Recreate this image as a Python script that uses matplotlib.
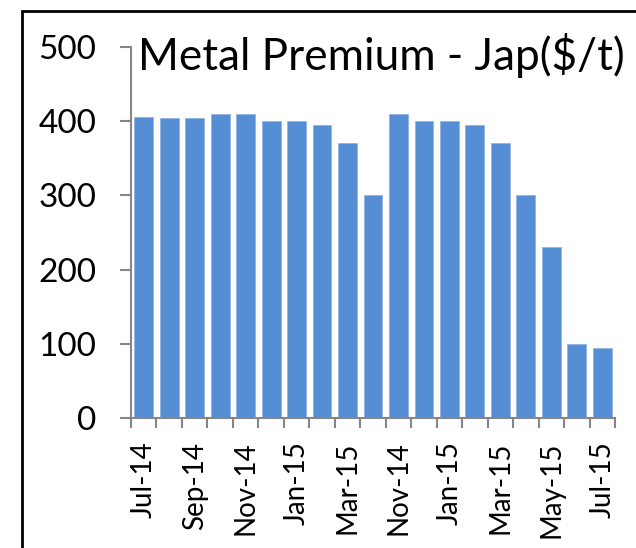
import matplotlib
matplotlib.use("Agg")
import matplotlib.pyplot as plt
from matplotlib.patches import Rectangle

months = ["Jul-14", "Aug-14", "Sep-14", "Oct-14", "Nov-14", "Dec-14", "Jan-15",
          "Feb-15", "Mar-15", "Apr-15", "Nov-14", "Dec-14", "Jan-15", "Feb-15",
          "Mar-15", "Apr-15", "May-15", "Jun-15", "Jul-15"]
premium = [405, 404, 404, 410, 410, 400, 400, 395, 370, 300,
           410, 400, 400, 395, 370, 300, 230, 100, 94]
yticks = [0, 100, 200, 300, 400, 500]
title = "Metal Premium - Jap($/t)"

plt.rcParams['font.family'] = ['Lato', 'DejaVu Sans']
W, H = 636, 548
fig = plt.figure(figsize=(W/100, H/100), dpi=100)
ax = fig.add_axes([131/W, 1-418/H, (615-131)/W, (418-47)/H])

x = list(range(len(months)))
ax.bar(x, premium, width=0.74, color='#558ed5', edgecolor='#8fb4e3', linewidth=0.6, zorder=2)
ax.set_xlim(-0.5, len(months)-0.5)
ax.set_ylim(0, 500)

gray = '#868686'
for s in ['top', 'right']:
    ax.spines[s].set_visible(False)
for s in ['left', 'bottom']:
    ax.spines[s].set_color(gray)
    ax.spines[s].set_linewidth(1.5)

ax.set_yticks(yticks)
ax.set_yticklabels([str(v) for v in yticks], fontsize=24)
ax.tick_params(axis='y', length=8, width=1.5, color=gray, pad=17, labelcolor='black')

ax.set_xticks(x[::2])
ax.set_xticklabels(months[::2], rotation=90, fontsize=20)
ax.tick_params(axis='x', which='major', length=0, pad=17, labelcolor='black')
ax.set_xticks([i - 0.5 for i in range(len(months)+1)], minor=True)
ax.tick_params(axis='x', which='minor', length=7, width=1.5, color=gray)

t = ax.text(138/W, 1-33/H, title, transform=fig.transFigure, fontsize=34,
            ha='left', va='top', color='black')
fig.canvas.draw()
w = t.get_window_extent(renderer=fig.canvas.get_renderer()).width
t.set_fontsize(34 * 487.0 / w)

fig.patches.append(Rectangle((22/W, -0.05), 1.0, 1-11/H+0.05, transform=fig.transFigure,
                             fill=False, edgecolor='black', linewidth=2))

fig.savefig("out.png", dpi=100)
